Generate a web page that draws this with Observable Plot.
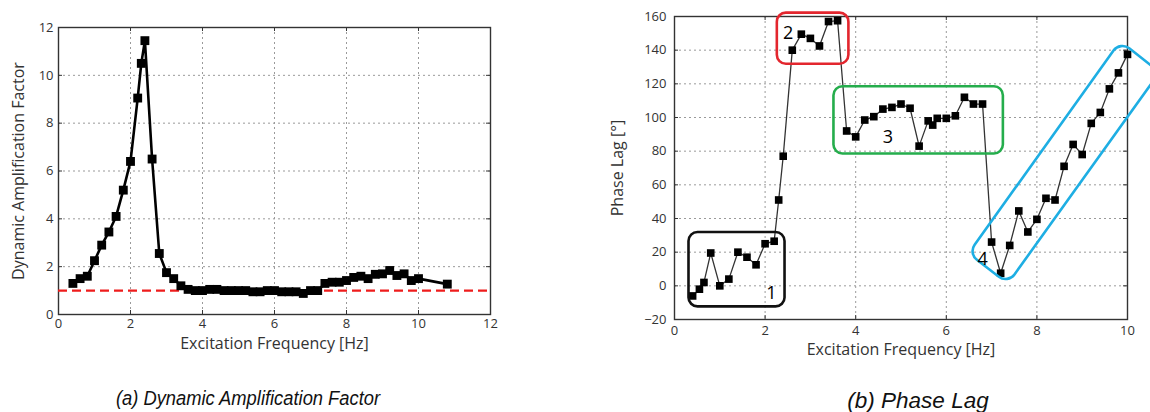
<!DOCTYPE html>
<html><head><meta charset="utf-8">
<script src="https://cdn.jsdelivr.net/npm/d3@7"></script>
<script src="https://cdn.jsdelivr.net/npm/@observablehq/plot@0.6"></script>
<style>
html,body{margin:0;padding:0;background:#fff;}
body{width:1150px;height:412px;overflow:hidden;position:relative;font-family:"Open Sans",sans-serif;}
#a{position:absolute;left:0;top:0;}
#b{position:absolute;left:600px;top:0;}
.cap{position:absolute;font-family:"Liberation Sans",Arial,sans-serif;font-style:italic;color:#111;white-space:nowrap;line-height:1;}
</style></head><body>
<div id="a"></div><div id="b"></div>
<div class="cap" style="left:248px;top:399px;font-size:19.5px;transform:translate(-50%,-50%) scaleX(0.94)">(a) Dynamic Amplification Factor</div>
<div class="cap" style="left:918px;top:401px;font-size:22.5px;transform:translate(-50%,-50%)">(b) Phase Lag</div>
<script>
// ---- (a) Dynamic Amplification Factor ----
const dafFreq = [0.4,0.6,0.8,1.0,1.2,1.4,1.6,1.8,2.0,2.2,2.3,2.4,2.6,2.8,3.0,3.2,3.4,3.6,3.8,4.0,4.2,4.4,4.6,4.8,5.0,5.2,5.4,5.6,5.8,6.0,6.2,6.4,6.6,6.8,7.0,7.2,7.4,7.6,7.8,8.0,8.2,8.4,8.6,8.8,9.0,9.2,9.4,9.6,9.8,10.0,10.8];
const dafValue = [1.3,1.5,1.6,2.25,2.9,3.45,4.1,5.2,6.4,9.05,10.5,11.45,6.5,2.55,1.75,1.5,1.2,1.05,1.0,1.0,1.05,1.05,1.0,1.0,1.0,1.0,0.95,0.95,1.0,1.0,0.95,0.95,0.95,0.88,1.0,1.0,1.3,1.35,1.35,1.42,1.55,1.6,1.5,1.68,1.7,1.84,1.63,1.7,1.42,1.5,1.27];
const dafReference = [1];
const dafXTicks = [0,2,4,6,8,10,12];
const dafYTicks = [0,2,4,6,8,10,12];

// ---- (b) Phase Lag ----
const phaseFreq = [0.4,0.55,0.65,0.8,1.0,1.2,1.4,1.6,1.8,2.0,2.2,2.3,2.4,2.6,2.8,3.0,3.2,3.4,3.6,3.8,4.0,4.2,4.4,4.6,4.8,5.0,5.2,5.4,5.6,5.7,5.8,6.0,6.2,6.4,6.6,6.8,7.0,7.2,7.4,7.6,7.8,8.0,8.2,8.4,8.6,8.8,9.0,9.2,9.4,9.6,9.8,10.0];
const phaseValue = [-6,-2,2,19.5,0,4,20,17,12.5,25,26.5,51,77,140,149.5,147,142.5,157,157.5,92,88.5,98.5,100.5,105,106,108,105.5,83,98,95.5,99.5,99.5,101,112,108,108,26,7.5,24,44.5,32,39.5,52,51,71,84,78,96.5,103,117,126.5,137.5];
const phaseXTicks = [0,2,4,6,8,10];
const phaseYTicks = [-20,0,20,40,60,80,100,120,140,160];

// annotation regions (data units) and labels
const regionNames = ["1","2","3","4"];
const regionColors = ["#111111","#e3262e","#25ad4c","#1eaee3"];
const regionCorners = [
  [[0.32,31.7],[2.44,31.7],[2.44,-12.5],[0.32,-12.5]],
  [[2.27,162],[3.85,162],[3.85,131.6],[2.27,131.6]],
  [[3.52,118.3],[7.26,118.3],[7.26,78.3],[3.52,78.3]],
  [[6.5,19],[9.85,145],[10.72,126.7],[7.37,1]]
];
const regionLabelX = [2.14,2.51,4.71,6.8];
const regionLabelY = [-4.5,150,88,16];

const dafData = dafFreq.map((f,i)=>({f, v: dafValue[i]}));
const phaseData = phaseFreq.map((f,i)=>({f, v: phaseValue[i]}));
const regionLabels = regionNames.map((n,i)=>({n, x: regionLabelX[i], y: regionLabelY[i]}));

const gridStyle = {stroke:"#9a9a9a", strokeWidth:1, strokeDasharray:"2,3"};

function roundedBox(corners, color, r) {
  return (index, scales) => {
    const pts = corners.map(([a,b]) => [scales.x(a), scales.y(b)]);
    const n = pts.length;
    const mid = (i,j) => [(pts[i][0]+pts[j][0])/2, (pts[i][1]+pts[j][1])/2];
    const p = d3.path();
    const m0 = mid(n-1,0);
    p.moveTo(m0[0], m0[1]);
    for (let i=0;i<n;i++) {
      const c = pts[i], m = mid(i,(i+1)%n);
      p.arcTo(c[0], c[1], m[0], m[1], r);
    }
    p.closePath();
    const el = document.createElementNS("http://www.w3.org/2000/svg","path");
    el.setAttribute("d", p.toString());
    el.setAttribute("fill","none");
    el.setAttribute("stroke", color);
    el.setAttribute("stroke-width", 2.6);
    return el;
  };
}

function inwardTicks(xt, yt, w, h, len) {
  return [
    Plot.tickX(xt, {x: d=>d, insetTop: h-len, stroke:"#333"}),
    Plot.tickX(xt, {x: d=>d, insetBottom: h-len, stroke:"#333"}),
    Plot.tickY(yt, {y: d=>d, insetRight: w-len, stroke:"#333"}),
    Plot.tickY(yt, {y: d=>d, insetLeft: w-len, stroke:"#333"})
  ];
}

// Left chart
const wA = 500, hA = 360, mlA = 58, mrA = 10, mtA = 27, mbA = 46;
const plotA = Plot.plot({
  width: wA, height: hA,
  marginLeft: mlA, marginRight: mrA, marginTop: mtA, marginBottom: mbA,
  style: {fontFamily:"Open Sans, sans-serif", fontSize:"13px", color:"#333", background:"white", overflow:"visible"},
  x: {domain:[0,12]},
  y: {domain:[0,12]},
  marks: [
    Plot.ruleX(dafXTicks, {x: d=>d, ...gridStyle}),
    Plot.ruleY(dafYTicks, {y: d=>d, ...gridStyle}),
    ...inwardTicks(dafXTicks, dafYTicks, wA-mlA-mrA, hA-mtA-mbA, 4),
    Plot.axisX(dafXTicks, {anchor:"bottom", tickSize:0, tickPadding:4, label:null, fontSize:13}),
    Plot.axisY(dafYTicks, {anchor:"left", tickSize:0, tickPadding:5, label:null, fontSize:13}),
    Plot.frame({stroke:"#333", strokeWidth:1.4}),
    Plot.ruleY(dafReference, {y: d=>d, stroke:"#ee1c1c", strokeWidth:2.2, strokeDasharray:"9,5"}),
    Plot.line(dafData, {x:"f", y:"v", stroke:"#000", strokeWidth:2.6}),
    Plot.dot(dafData, {x:"f", y:"v", symbol:"square", r:5, fill:"#000", stroke:null}),
    Plot.text(["Excitation Frequency [Hz]"], {frameAnchor:"bottom", dy:34, fontSize:16, fill:"#333"}),
    Plot.text(["Dynamic Amplification Factor"], {frameAnchor:"left", textAnchor:"middle", dx:-40, rotate:-90, fontSize:16, fill:"#333"})
  ]
});
document.getElementById("a").appendChild(plotA);

// Right chart
const wB = 550, hB = 370, mlB = 74, mrB = 23, mtB = 16, mbB = 51;
const plotB = Plot.plot({
  width: wB, height: hB,
  marginLeft: mlB, marginRight: mrB, marginTop: mtB, marginBottom: mbB,
  style: {fontFamily:"Open Sans, sans-serif", fontSize:"13px", color:"#333", background:"transparent", overflow:"visible"},
  x: {domain:[0,10]},
  y: {domain:[-20,160]},
  marks: [
    Plot.ruleX(phaseXTicks, {x: d=>d, ...gridStyle}),
    Plot.ruleY(phaseYTicks, {y: d=>d, ...gridStyle}),
    ...inwardTicks(phaseXTicks, phaseYTicks, wB-mlB-mrB, hB-mtB-mbB, 4),
    Plot.axisX(phaseXTicks, {anchor:"bottom", tickSize:0, tickPadding:6, label:null, fontSize:13}),
    Plot.axisY(phaseYTicks, {anchor:"left", tickSize:0, tickPadding:8, label:null, fontSize:13}),
    Plot.frame({stroke:"#333", strokeWidth:1.4}),
    Plot.line(phaseData, {x:"f", y:"v", stroke:"#333", strokeWidth:1.3}),
    Plot.dot(phaseData, {x:"f", y:"v", symbol:"square", r:4.3, fill:"#000", stroke:null}),
    ...regionCorners.map((c,i) => roundedBox(c, regionColors[i], i===3 ? 11 : 9)),
    Plot.text(regionLabels, {x:"x", y:"y", text:"n", fontSize:18, fill:"#000"}),
    Plot.text(["Excitation Frequency [Hz]"], {frameAnchor:"bottom", dy:35, fontSize:16, fill:"#333"}),
    Plot.text(["Phase Lag [°]"], {frameAnchor:"left", textAnchor:"middle", dx:-57, rotate:-90, fontSize:16, fill:"#333"})
  ]
});
document.getElementById("b").appendChild(plotB);
</script>
</body></html>
